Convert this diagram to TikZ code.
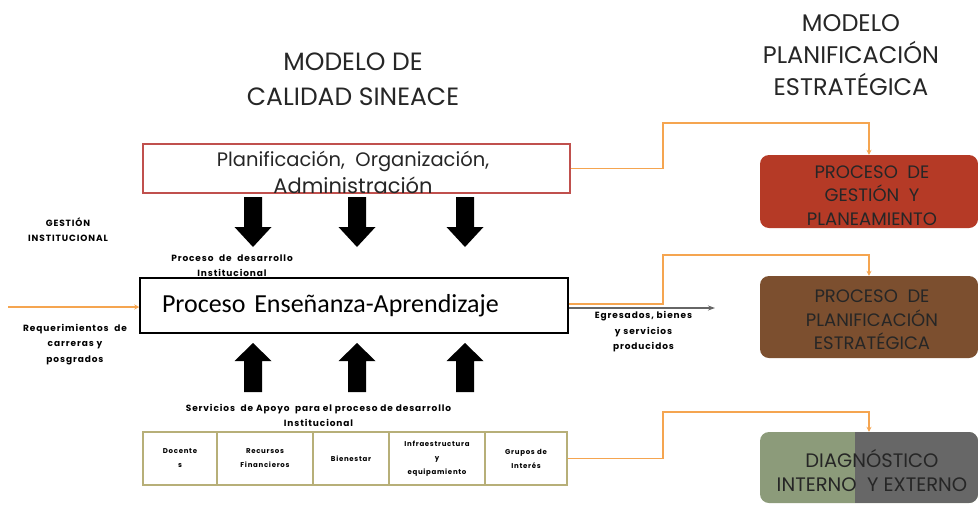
\documentclass[tikz,border=0pt]{standalone}
\usepackage{fontspec}
\setmainfont{Poppins}
\newfontfamily\calibfont{Carlito}
\newfontfamily\smallfont[LetterSpace=10]{Poppins}
\usetikzlibrary{shapes,arrows,positioning,calc,arrows.meta}
\definecolor{boxred}{HTML}{B53A26}
\definecolor{boxbrown}{HTML}{7C4F2F}
\definecolor{boxgreen}{HTML}{8C9B7A}
\definecolor{boxgray}{HTML}{676767}
\definecolor{linkorange}{HTML}{F5A550}
\definecolor{frameolive}{HTML}{B7AF78}
\definecolor{framered}{HTML}{C0504D}

\begin{document}
\begin{tikzpicture}[x=1pt,y=-1pt,
    link/.style={linkorange, line width=1.3pt, -{Stealth[length=5pt,width=5pt]}},
    stagebox/.style={rounded corners=9pt, minimum width=218pt, inner sep=0pt},
    stagetext/.style={align=center, text=black!85, font=\fontsize{18}{23.5}\selectfont},
    smalltext/.style={align=center, font=\smallfont\bfseries\fontsize{9}{15.5}\selectfont},
    cell/.style={draw=frameolive, line width=2pt, minimum height=53pt, inner sep=0pt, align=center, font=\smallfont\bfseries\fontsize{7}{14}\selectfont}]
\useasboundingbox (0,0) rectangle (978,504);

% titulos
\node[align=center, text=black!85, font=\fontsize{25}{35}\selectfont] (sineace) at (353,79) {MODELO DE\\CALIDAD SINEACE};
\node[align=center, text=black!85, font=\fontsize{24}{32}\selectfont] (planest) at (851,55) {MODELO\\PLANIFICACIÓN\\ESTRATÉGICA};

% modelo de calidad
\node[draw=framered, line width=1.5pt, minimum width=427pt, minimum height=49pt] (plan) at (356.5,168.5) {};
\node[align=center, text=black!85, font=\fontsize{21}{27}\selectfont] (plantext) at (353,172) {{\fontsize{19.5}{24}\selectfont Planificación, \ Organización,}\\Administración};

% flechas gruesas
\foreach \ax in {253,357,465} {
  \fill (\ax-9,197) -- (\ax+9,197) -- (\ax+9,227) -- (\ax+18.5,227) -- (\ax,247) -- (\ax-18.5,227) -- (\ax-9,227) -- cycle;
  \fill (\ax-9,392) -- (\ax+9,392) -- (\ax+9,361) -- (\ax+18.5,361) -- (\ax,343) -- (\ax-18.5,361) -- (\ax-9,361) -- cycle;
}

\node[draw, line width=1.5pt, minimum height=55pt, text width=384pt, inner xsep=22pt, align=left, font=\calibfont\fontsize{26}{30}\selectfont] (ensenanza) at (354,305.5) {Proceso Enseñanza-Aprendizaje};

\node[smalltext] (gestion) at (68,229.5) {GESTIÓN\\INSTITUCIONAL};
\node[smalltext] (desarrollo) at (232,265.5) {Proceso \ de \ desarrollo\\Institucional};
\node[smalltext] (requer) at (75,344.5) {Requerimientos \ de\\carreras y\\posgrados};
\node[smalltext] (servicios) at (318.5,415.5) {Servicios \ de Apoyo \ para el proceso de desarrollo\\Institucional};
\node[smalltext] (egresados) at (643.5,332) {Egresados, bienes\\y servicios\\producidos};

% servicios de apoyo
\foreach \cx/\cw/\ctext [count=\i] in {180/74/{Docente\\s}, 265/96/{Recursos\\Financieros}, 351/76/{Bienestar}, 437/96/{Infraestructura\\y\\equipamiento}, 526/82/{Grupos de\\Interés}}
  \node[cell, minimum width=\cw pt] (cell\i) at (\cx,458.5) {\ctext};

\coordinate (reqin) at (8,307);
\draw[link] (reqin) -- (reqin -| ensenanza.west);
\coordinate (salida) at (715,308);
\draw[-{Stealth[length=7pt,width=5pt]}, line width=1.5pt, black!60] ([yshift=-2.5pt]ensenanza.east) -- (salida);

% modelo planificacion estrategica
\node[stagebox, fill=boxred, minimum height=73pt] (gestionbox) at (869,191.5) {};
\node[stagetext] (gestiontext) at ([xshift=3pt,yshift=-4pt]gestionbox.center) {PROCESO \ DE\\GESTIÓN \ Y\\PLANEAMIENTO};
\node[stagebox, fill=boxbrown, minimum height=82pt] (planifbox) at (869,317) {};
\node[stagetext] (planiftext) at ([xshift=3pt,yshift=-3pt]planifbox.center) {PROCESO \ DE\\PLANIFICACIÓN\\ESTRATÉGICA};
\node[stagebox, fill=boxgreen, minimum height=71pt, path picture={\fill[boxgray, sharp corners] ($(path picture bounding box.south west)!0.436!(path picture bounding box.south east)$) rectangle (path picture bounding box.north east);}] (diagbox) at (869,467.5) {};
\node[stagetext, font=\fontsize{19.5}{24}\selectfont] (diagtext) at ([xshift=3pt,yshift=-3pt]diagbox.center) {DIAGNÓSTICO\\INTERNO \ Y EXTERNO};

\coordinate (bend1) at (663,123);
\coordinate (bend2) at (663,255);
\coordinate (bend3) at (663,412);
\draw[link] (plan.east) -| (bend1) -| (gestionbox.north);
\draw[link] ([yshift=1.5pt]ensenanza.east) -| (bend2) -| (planifbox.north);
\draw[link] (cell5.east) -| (bend3) -| (diagbox.north);
\end{tikzpicture}
\end{document}
